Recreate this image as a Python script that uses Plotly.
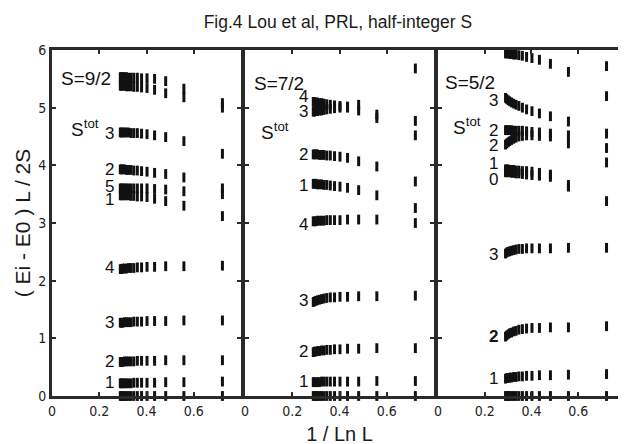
import plotly.graph_objects as go

# x = 1/ln L for L = 32, 30, ..., 6, 4
X = [0.289, 0.294, 0.300, 0.307, 0.315, 0.324, 0.334, 0.346, 0.361, 0.379, 0.402, 0.434, 0.481, 0.558, 0.721]

# ---- S = 9/2 ----
s92_a = [5.53, 5.53, 5.53, 5.53, 5.53, 5.52, 5.52, 5.52, 5.52, 5.51, 5.51, 5.50, 5.46, 5.33, 5.08]
s92_b = [5.38, 5.38, 5.38, 5.38, 5.37, 5.37, 5.37, 5.36, 5.36, 5.35, 5.34, 5.31, 5.25, 5.18, 5.00]
s92_3 = [4.57, 4.57, 4.57, 4.57, 4.57, 4.57, 4.56, 4.56, 4.56, 4.55, 4.54, 4.52, 4.49, 4.42, 4.20]
s92_2 = [3.93, 3.93, 3.93, 3.93, 3.92, 3.92, 3.92, 3.91, 3.91, 3.90, 3.89, 3.87, 3.85, 3.79, 3.60]
s92_5 = [3.60, 3.60, 3.60, 3.60, 3.60, 3.60, 3.60, 3.60, 3.60, 3.60, 3.60, 3.59, 3.58, 3.55, 3.50]
s92_1 = [3.48, 3.48, 3.48, 3.48, 3.48, 3.48, 3.47, 3.47, 3.46, 3.46, 3.45, 3.42, 3.38, 3.30, 3.12]
s92_4 = [2.20, 2.20, 2.21, 2.21, 2.21, 2.22, 2.22, 2.22, 2.23, 2.23, 2.24, 2.24, 2.25, 2.25, 2.26]
s92_3b = [1.27, 1.27, 1.27, 1.28, 1.28, 1.28, 1.28, 1.29, 1.29, 1.29, 1.30, 1.30, 1.30, 1.31, 1.31]
s92_2b = [0.59, 0.59, 0.59, 0.60, 0.60, 0.60, 0.60, 0.60, 0.61, 0.61, 0.61, 0.61, 0.62, 0.62, 0.62]
s92_1b = [0.22, 0.22, 0.22, 0.22, 0.22, 0.22, 0.22, 0.23, 0.23, 0.23, 0.23, 0.23, 0.24, 0.24, 0.25]
s92_0 = [0, 0, 0, 0, 0, 0, 0, 0, 0, 0, 0, 0, 0, 0, 0]

# ---- S = 7/2 ----
s72_4 = [5.10, 5.10, 5.09, 5.09, 5.08, 5.08, 5.07, 5.06, 5.05, 5.04, 5.03, 5.02, 5.05, 4.88, 4.77]
s72_3 = [4.93, 4.93, 4.94, 4.94, 4.95, 4.95, 4.96, 4.97, 4.98, 4.99, 5.00, 5.00, 4.95, 4.82, 4.52]
s72_2 = [4.19, 4.19, 4.19, 4.19, 4.18, 4.18, 4.18, 4.17, 4.17, 4.16, 4.15, 4.13, 4.07, 3.98, 3.72]
s72_1 = [3.68, 3.68, 3.68, 3.67, 3.67, 3.67, 3.66, 3.66, 3.65, 3.64, 3.63, 3.61, 3.57, 3.48, 3.26]
s72_4b = [3.03, 3.03, 3.03, 3.04, 3.04, 3.04, 3.04, 3.05, 3.05, 3.05, 3.05, 3.06, 3.06, 3.06, 3.00]
s72_3b = [1.63, 1.64, 1.65, 1.66, 1.67, 1.68, 1.69, 1.70, 1.71, 1.71, 1.72, 1.72, 1.73, 1.73, 1.74]
s72_2b = [0.76, 0.77, 0.77, 0.78, 0.78, 0.79, 0.79, 0.80, 0.80, 0.81, 0.81, 0.82, 0.82, 0.83, 0.83]
s72_1b = [0.24, 0.24, 0.24, 0.24, 0.24, 0.25, 0.25, 0.25, 0.25, 0.25, 0.25, 0.25, 0.25, 0.26, 0.26]
s72_0 = [0, 0, 0, 0, 0, 0, 0, 0, 0, 0, 0, 0, 0, 0, 0]
s72_extra_x = [0.721]
s72_extra_y = [5.68]

# ---- S = 5/2 ----
s52_t = [5.94, 5.94, 5.94, 5.93, 5.93, 5.92, 5.92, 5.91, 5.90, 5.88, 5.86, 5.83, 5.76, 5.62, 5.72]
s52_3 = [5.17, 5.15, 5.13, 5.11, 5.09, 5.07, 5.05, 5.03, 5.00, 4.97, 4.94, 4.90, 4.85, 4.76, 5.20]
s52_2a = [4.61, 4.61, 4.61, 4.61, 4.61, 4.60, 4.60, 4.60, 4.60, 4.59, 4.58, 4.57, 4.55, 4.52, 4.55]
s52_2b = [4.36, 4.38, 4.40, 4.42, 4.44, 4.46, 4.48, 4.50, 4.51, 4.52, 4.52, 4.51, 4.50, 4.38, 4.30]
s52_1 = [3.93, 3.93, 3.93, 3.92, 3.92, 3.92, 3.91, 3.91, 3.90, 3.90, 3.89, 3.87, 3.84, 3.66, 4.05]
s52_0 = [3.88, 3.88, 3.88, 3.88, 3.87, 3.87, 3.86, 3.86, 3.85, 3.84, 3.83, 3.82, 3.80, 3.63, 3.38]
s52_3b = [2.47, 2.49, 2.50, 2.51, 2.52, 2.53, 2.54, 2.55, 2.55, 2.56, 2.56, 2.56, 2.56, 2.57, 2.57]
s52_2c = [1.03, 1.05, 1.07, 1.09, 1.10, 1.12, 1.13, 1.15, 1.16, 1.17, 1.18, 1.18, 1.19, 1.19, 1.21]
s52_1b = [0.30, 0.31, 0.31, 0.32, 0.32, 0.33, 0.33, 0.34, 0.34, 0.35, 0.35, 0.36, 0.36, 0.37, 0.38]
s52_g = [0, 0, 0, 0, 0, 0, 0, 0, 0, 0, 0, 0, 0, 0, 0]

# Tick labels
y_ticks = [0, 1, 2, 3, 4, 5, 6]
x_ticks_12 = [0, 0.2, 0.4, 0.6]
x_ticks_3 = [0, 0.2, 0.4, 0.6, 0.8]
x_ticktext_12 = ["0", "0.2", "0.4", "0.6"]
x_ticktext_3 = ["0", "0.2", "0.4", "0.6", "0.8"]

# Level labels: (text, y)
lab_92 = [("3", 4.56), ("2", 3.93), ("5", 3.63), ("1", 3.40), ("4", 2.22), ("3", 1.27), ("2", 0.60), ("1", 0.23)]
lab_72 = [("4", 5.19), ("3", 4.93), ("2", 4.18), ("1", 3.65), ("4", 2.98), ("3", 1.65), ("2", 0.77), ("1", 0.26)]
lab_52 = [("3", 5.13), ("2", 4.61), ("2", 4.34), ("1", 4.03), ("0", 3.76), ("3", 2.46), ("<b>2</b>", 1.04), ("1", 0.30)]

panels = [
    ("x", "y", [s92_a, s92_b, s92_3, s92_2, s92_5, s92_1, s92_4, s92_3b, s92_2b, s92_1b, s92_0], [], []),
    ("x2", "y2", [s72_4, s72_3, s72_2, s72_1, s72_4b, s72_3b, s72_2b, s72_1b, s72_0], s72_extra_x, s72_extra_y),
    ("x3", "y3", [s52_t, s52_3, s52_2a, s52_2b, s52_1, s52_0, s52_3b, s52_2c, s52_1b, s52_g], [], []),
]

fig = go.Figure()
marker = dict(symbol="line-ns", size=7, color="#111", line=dict(width=3, color="#111"))
for xa, ya, levels, ex, ey in panels:
    xs, ys = [], []
    for lev in levels:
        xs += X
        ys += lev
    xs += ex
    ys += ey
    fig.add_trace(go.Scatter(x=xs, y=ys, mode="markers", marker=marker, cliponaxis=False,
                             xaxis=xa, yaxis=ya, showlegend=False, hoverinfo="skip"))

narrow = "Liberation Sans Narrow, Arial Narrow, DejaVu Sans Condensed, Liberation Sans, Arial"
sans = "Liberation Sans, Arial, Helvetica, sans-serif"

domains = [[0, 0.33], [0.3368, 0.6667], [0.6736, 1.0]]
axis_common = dict(range=[0, 0.8], showline=True, linewidth=3, linecolor="#2a2a2a", mirror="ticks",
                   ticks="inside", ticklen=4, tickwidth=2, tickcolor="#2a2a2a", showgrid=False,
                   zeroline=False, tickfont=dict(family=narrow, size=14, color="#222"), fixedrange=True)
yaxis_common = dict(range=[0, 6], showline=True, linewidth=3, linecolor="#2a2a2a", mirror="ticks",
                    ticks="inside", ticklen=4, tickwidth=2, tickcolor="#2a2a2a", showgrid=False,
                    zeroline=False, tickvals=y_ticks, tickfont=dict(family=narrow, size=14, color="#222"),
                    fixedrange=True)

layout = dict(
    width=626, height=444, paper_bgcolor="white", plot_bgcolor="white",
    margin=dict(l=44, r=6, t=42, b=56),
    title=dict(text="Fig.4 Lou et al, PRL, half-integer S", x=0.527, xanchor="center", y=0.968, yanchor="middle",
               font=dict(family=sans, size=17.5, color="#1a1a1a")),
    showlegend=False,
)
for i, (xa, ya, _, _, _) in enumerate(panels):
    xk = "xaxis" if i == 0 else f"xaxis{i+1}"
    yk = "yaxis" if i == 0 else f"yaxis{i+1}"
    tv = x_ticks_3 if i == 2 else x_ticks_12
    tt = x_ticktext_3 if i == 2 else x_ticktext_12
    layout[xk] = dict(axis_common, domain=domains[i], anchor=ya, tickvals=tv, ticktext=tt)
    layout[yk] = dict(yaxis_common, domain=[0, 1], anchor=xa, showticklabels=(i == 0))
layout["xaxis2"]["title"] = dict(text="1 / Ln L", font=dict(family=sans, size=20, color="#1a1a1a"), standoff=10)
layout["yaxis"]["title"] = dict(text="( Ei - E0 ) L / 2S", font=dict(family=sans, size=21, color="#1a1a1a"), standoff=2)
fig.update_layout(**layout)

anns = []
head = [("x", "y", "S=9/2", 5.51, 4.64, 0.03, 0.07),
        ("x2", "y2", "S=7/2", 5.42, 4.60, 0.03, 0.06),
        ("x3", "y3", "S=5/2", 5.43, 4.68, 0.02, 0.055)]
for xa, ya, name, yn, ys, xn, xs in head:
    anns.append(dict(x=xn, y=yn, xref=xa, yref=ya, text=name, showarrow=False, xanchor="left",
                     yanchor="middle", font=dict(family=sans, size=19, color="#111")))
    anns.append(dict(x=xs, y=ys, xref=xa, yref=ya, text="S<sup>tot</sup>", showarrow=False, xanchor="left",
                     yanchor="middle", font=dict(family=sans, size=19, color="#111")))
for (xa, ya, _, _, _), labs, lx in zip(panels, [lab_92, lab_72, lab_52], [0.272, 0.276, 0.267]):
    for t, yv in labs:
        anns.append(dict(x=lx, y=yv, xref=xa, yref=ya, text=t, showarrow=False, xanchor="right",
                         yanchor="middle", font=dict(family=sans, size=17, color="#111")))
fig.update_layout(annotations=anns)

fig.write_html("out.html")
